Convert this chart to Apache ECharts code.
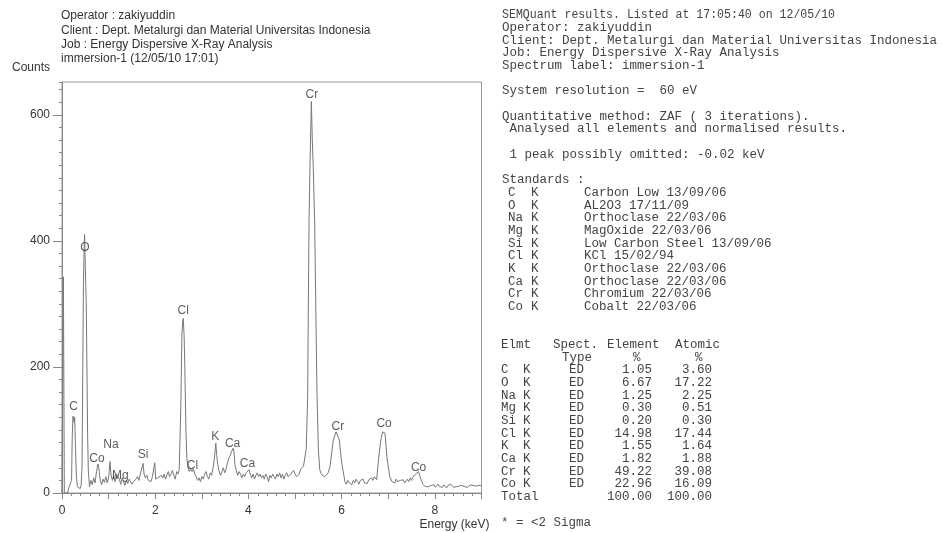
<!DOCTYPE html>
<html>
<head>
<meta charset="utf-8">
<script src="https://cdn.jsdelivr.net/npm/echarts@6/dist/echarts.min.js"></script>
<style>
  html, body { margin: 0; padding: 0; background: #fff; }
  #chart { width: 942px; height: 533px; }
</style>
</head>
<body>
<div id="chart"></div>
<script>
// EDS spectrum: energy channel (keV) and counts
const energyKeV = [
  0.00, 0.01, 0.03, 0.05, 0.12, 0.145, 0.18, 0.205, 0.22, 0.235, 0.25, 0.262, 0.272, 0.29, 0.31, 0.33, 0.35, 0.37, 0.39, 0.41,
  0.43, 0.445, 0.46, 0.475, 0.485, 0.50, 0.52, 0.535, 0.55, 0.565, 0.59,
  0.62, 0.65, 0.68, 0.71, 0.74, 0.77, 0.79, 0.82, 0.85, 0.88, 0.91, 0.94, 0.97, 1.00, 1.03, 1.05, 1.08, 1.11, 1.14,
  1.17, 1.20, 1.23, 1.26, 1.29, 1.32, 1.35, 1.38, 1.41, 1.44, 1.47, 1.50, 1.53, 1.56, 1.59, 1.62, 1.65, 1.68, 1.71,
  1.74, 1.76, 1.79, 1.82, 1.85, 1.88, 1.91, 1.94, 1.97, 1.99, 2.01, 2.04, 2.07, 2.10, 2.13, 2.16, 2.19, 2.22, 2.25,
  2.28, 2.31, 2.34, 2.37, 2.40, 2.43, 2.46, 2.49,
  2.515, 2.55, 2.573, 2.59, 2.602, 2.62, 2.635, 2.66, 2.68, 2.70, 2.73,
  2.76, 2.79, 2.82, 2.85, 2.88, 2.91, 2.94, 2.97, 3.00, 3.03, 3.06, 3.09, 3.12, 3.15, 3.18, 3.21, 3.24, 3.27, 3.30,
  3.32, 3.34, 3.37, 3.40, 3.43, 3.46, 3.49, 3.52, 3.55, 3.58, 3.61, 3.64, 3.67, 3.69, 3.71, 3.74, 3.77, 3.80,
  3.83, 3.86, 3.89, 3.92, 3.95, 3.98, 4.01, 4.04, 4.07, 4.10, 4.13, 4.16, 4.19, 4.22, 4.25, 4.28, 4.31, 4.34, 4.37,
  4.40, 4.43, 4.46, 4.49, 4.52, 4.55, 4.58, 4.61, 4.64, 4.67, 4.70, 4.73, 4.76, 4.79, 4.82, 4.85, 4.88, 4.91, 4.94,
  4.97, 5.00, 5.03, 5.06, 5.09, 5.12, 5.15,
  5.18, 5.21, 5.24, 5.27, 5.28, 5.30, 5.32, 5.35, 5.37, 5.39, 5.42, 5.45, 5.47, 5.50, 5.53, 5.57,
  5.64, 5.71, 5.75, 5.82, 5.88, 5.91, 5.95, 6.00, 6.07,
  6.10, 6.13, 6.16, 6.19, 6.22, 6.25, 6.28, 6.31, 6.34, 6.37, 6.40, 6.43, 6.46, 6.49, 6.52, 6.55, 6.58, 6.61, 6.64,
  6.67, 6.70, 6.75, 6.79, 6.84, 6.88, 6.93, 6.97, 7.03, 7.08,
  7.11, 7.14, 7.17, 7.20, 7.23, 7.26, 7.29, 7.32, 7.35, 7.38, 7.41, 7.44, 7.47, 7.50, 7.53, 7.56, 7.59, 7.62, 7.65,
  7.68, 7.71, 7.74, 7.77, 7.80, 7.83, 7.86, 7.89, 7.92, 7.95, 7.98, 8.01, 8.04, 8.07, 8.10, 8.13, 8.16, 8.19, 8.22,
  8.25, 8.28, 8.31, 8.34, 8.37, 8.40, 8.43, 8.46, 8.49, 8.52, 8.55, 8.58, 8.61, 8.64, 8.67, 8.70, 8.73, 8.76, 8.79,
  8.82, 8.85, 8.88, 8.91, 8.94, 8.97, 9.00
];
const counts = [
  0, 0, 343, 0, 0, 8, 9, 20, 90, 122, 124, 112, 120, 70, 25, 10, 8, 11, 7, 12,
  42, 190, 330, 390, 410, 360, 300, 200, 90, 35, 10,
  20, 13, 24, 16, 34, 46, 40, 20, 13, 22, 17, 26, 16, 24, 50, 30, 20, 28, 18,
  30, 33, 22, 14, 24, 18, 12, 20, 15, 22, 25, 14, 18, 16, 22, 26, 20, 30, 28,
  47, 30, 24, 28, 20, 22, 18, 26, 24, 48, 22, 20, 25, 22, 28, 24, 30, 22, 28,
  34, 26, 30, 36, 28, 22, 34, 30,
  37, 140, 253, 272, 277, 250, 200, 95, 55, 42, 34,
  38, 34, 38, 30, 26, 20, 24, 18, 26, 22, 30, 34, 26, 22, 32, 28, 40, 55, 79,
  60, 45, 35, 28, 34, 40, 32, 38, 48, 55, 60, 66, 71, 65, 45, 36, 28, 34,
  30, 24, 30, 26, 32, 34, 37, 30, 24, 30, 22, 28, 32, 26, 30, 24, 28, 22, 30,
  26, 18, 28, 24, 30, 26, 22, 30, 26, 32, 24, 30, 22, 28, 32, 26, 24, 30, 28,
  36, 30, 26, 28, 30, 38, 36,
  42, 45, 70, 150, 250, 433, 518, 621, 560, 518, 433, 270, 160, 69, 37, 29,
  26, 32, 42, 84, 97, 95, 84, 48, 18,
  14, 20, 16, 18, 13, 20, 16, 22, 18, 14, 20, 17, 22, 16, 19, 15, 21, 18, 24,
  20, 26, 21, 53, 84, 97, 95, 58, 26, 18,
  20, 16, 22, 18, 15, 20, 17, 21, 16, 19, 22, 18, 24, 20, 26, 24, 30, 28, 34,
  26, 20, 14, 12, 10, 12, 10, 8, 12, 10, 13, 9, 11, 14, 10, 12, 9, 13, 11,
  8, 12, 10, 14, 11, 9, 12, 10, 13, 11, 9, 12, 14, 10, 12, 9, 11, 13, 10,
  12, 9, 11, 14, 12, 10, 12
];

// Peak identification labels, anchored in data space (keV, counts)
const peakNames  = ['Cr', 'O', 'Cl', 'C', 'Na', 'Co', 'Mg', 'Si', 'Cl', 'K', 'Ca', 'Ca', 'Cr', 'Co', 'Co'];
const peakEnergy = [5.36, 0.49, 2.60, 0.25, 1.05, 0.75, 1.25, 1.74, 2.80, 3.29, 3.66, 3.98, 5.92, 6.91, 7.65];
const peakCounts = [632, 389, 290, 137, 76, 54, 27, 60, 44, 89, 78, 46, 105, 110, 40];

// Axis ticks
const xTickLabels = [0, 2, 4, 6, 8];
const yTickLabels = [0, 200, 400, 600];

// Acquisition header
const headerLines = [
  'Operator : zakiyuddin',
  'Client : Dept. Metalurgi dan Material Universitas Indonesia',
  'Job : Energy Dispersive X-Ray Analysis',
  'immersion-1 (12/05/10 17:01)'
];

// SEMQuant report
const reportTitle = 'SEMQuant results. Listed at 17:05:40 on 12/05/10';
const reportLines = [
  [1, 'Operator: zakiyuddin'],
  [2, 'Client: Dept. Metalurgi dan Material Universitas Indonesia'],
  [3, 'Job: Energy Dispersive X-Ray Analysis'],
  [4, 'Spectrum label: immersion-1'],
  [6, 'System resolution =  60 eV'],
  [8, 'Quantitative method: ZAF ( 3 iterations).'],
  [9, ' Analysed all elements and normalised results.'],
  [11, ' 1 peak possibly omitted: -0.02 keV'],
  [13, 'Standards :']
];
const stdElements  = ['C', 'O', 'Na', 'Mg', 'Si', 'Cl', 'K', 'Ca', 'Cr', 'Co'];
const stdNames = [
  'Carbon Low 13/09/06', 'AL2O3 17/11/09', 'Orthoclase 22/03/06', 'MagOxide 22/03/06',
  'Low Carbon Steel 13/09/06', 'KCl 15/02/94', 'Orthoclase 22/03/06', 'Orthoclase 22/03/06',
  'Chromium 22/03/06', 'Cobalt 22/03/06'
];
const tableElements = ['C', 'O', 'Na', 'Mg', 'Si', 'Cl', 'K', 'Ca', 'Cr', 'Co'];
const elementPct = ['1.05', '6.67', '1.25', '0.30', '0.20', '14.98', '1.55', '1.82', '49.22', '22.96'];
const atomicPct  = ['3.60', '17.22', '2.25', '0.51', '0.30', '17.44', '1.64', '1.88', '39.08', '16.09'];
const totals = ['100.00', '100.00'];

const SANS = 'Arial, "Liberation Sans", Helvetica, sans-serif';
const MONO = '"Courier New", "Liberation Mono", monospace';
const INK = '#333';
const MONO_INK = '#444';

const chart = echarts.init(document.getElementById('chart'), null, { renderer: 'canvas' });

// Report text elements, laid out on a fixed line pitch
const graphics = [];
const rowY = r => 15 + 12.68 * r;
function monoText(x, row, text, align, squeeze) {
  graphics.push({
    type: 'text', x: x, y: rowY(row), scaleX: squeeze || 1,
    style: { text: text, font: '12.5px ' + MONO, fill: MONO_INK,
             textAlign: align || 'left', textVerticalAlign: 'middle' },
    silent: true
  });
}
// the listing title is printed a little condensed
monoText(502, 0, reportTitle, 'left', 0.925);
reportLines.forEach(([row, txt]) => monoText(502, row, txt));
stdElements.forEach((el, i) => {
  monoText(508, 14 + i, el);
  monoText(531, 14 + i, 'K');
  monoText(584, 14 + i, stdNames[i]);
});
monoText(501, 26, 'Elmt');
monoText(553, 26, 'Spect.');
monoText(607, 26, 'Element');
monoText(675, 26, 'Atomic');
monoText(562, 27, 'Type');
monoText(633, 27, '%');
monoText(695, 27, '%');
tableElements.forEach((el, i) => {
  monoText(501, 28 + i, el);
  monoText(523, 28 + i, 'K');
  monoText(569, 28 + i, 'ED');
  monoText(652, 28 + i, elementPct[i], 'right');
  monoText(712, 28 + i, atomicPct[i], 'right');
});
monoText(501, 38, 'Total');
monoText(652, 38, totals[0], 'right');
monoText(712, 38, totals[1], 'right');
monoText(501, 40, '* = <2 Sigma');

headerLines.forEach((txt, i) => {
  graphics.push({
    type: 'text', x: 61, y: 16 + 14.3 * i,
    style: { text: txt, font: '12px ' + SANS, fill: INK, textAlign: 'left', textVerticalAlign: 'middle' },
    silent: true
  });
});

const option = {
  animation: false,
  backgroundColor: '#fff',
  grid: { left: 62, right: 460.5, top: 82, bottom: 40, show: true, borderColor: '#999', borderWidth: 1 },
  xAxis: {
    type: 'value', min: 0, max: 9, interval: 1,
    name: 'Energy (keV)', nameLocation: 'end', nameGap: 8,
    nameTextStyle: { fontFamily: SANS, fontSize: 12, color: INK, align: 'right', verticalAlign: 'top', padding: [26, 0, 0, 0] },
    axisLine: { lineStyle: { color: '#888', width: 1 } },
    axisTick: { show: true, inside: false, length: 6, lineStyle: { color: '#888' } },
    minorTick: { show: true, splitNumber: 5, length: 3, lineStyle: { color: '#888' } },
    axisLabel: { customValues: xTickLabels, margin: 12, color: INK, fontFamily: SANS, fontSize: 12 },
    splitLine: { show: false }
  },
  yAxis: [
    {
      type: 'value', min: 0, max: 652, interval: 20,
      name: 'Counts', nameLocation: 'end', nameGap: 8,
      nameTextStyle: { fontFamily: SANS, fontSize: 12, color: INK, align: 'right', padding: [0, 12, 0, 0] },
      axisLine: { show: true, lineStyle: { color: '#888', width: 1 } },
      axisTick: { show: true, inside: false, length: 3, lineStyle: { color: '#888' } },
      axisLabel: { customValues: yTickLabels, margin: 12, color: INK, fontFamily: SANS, fontSize: 12 },
      splitLine: { show: false }
    },
    {
      type: 'value', min: 0, max: 652, position: 'left', offset: 0,
      axisLine: { show: false },
      axisTick: { show: true, inside: false, length: 9, customValues: yTickLabels, lineStyle: { color: '#888' } },
      axisLabel: { show: false },
      splitLine: { show: false }
    }
  ],
  series: [
    {
      type: 'line',
      data: energyKeV.map((e, i) => [e, counts[i]]),
      showSymbol: false, symbol: 'none',
      lineStyle: { color: '#777', width: 1 },
      z: 2, silent: true
    },
    {
      type: 'scatter',
      data: peakNames.map((n, i) => ({ name: n, value: [peakEnergy[i], peakCounts[i]] })),
      symbolSize: 1,
      itemStyle: { color: 'rgba(0,0,0,0)' },
      label: { show: true, position: 'inside', formatter: '{b}', color: INK, fontFamily: SANS, fontSize: 12 },
      z: 3, silent: true
    }
  ],
  graphic: graphics
};
chart.setOption(option);
</script>
</body>
</html>
